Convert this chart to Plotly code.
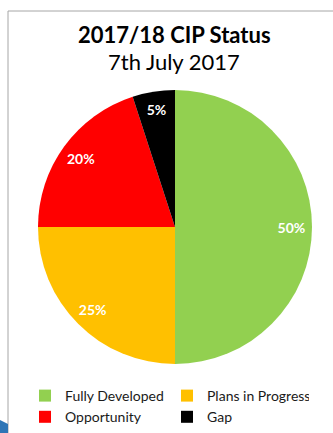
import plotly.graph_objects as go

labels = ["Fully Developed", "Plans in Progress", "Opportunity", "Gap"]
values = [50, 25, 20, 5]
colors = ["#92D050", "#FFC000", "#FF0000", "#000000"]
title_text = "2017/18 CIP Status"
subtitle_text = "7th July 2017"

W, H = 333, 433
FONT = "Lato"

def px(x):
    return x / W

def py(y):
    return 1 - y / H

cx, cy, r = 175, 227, 137
domain = dict(x=[px(cx - r), px(cx + r)], y=[py(cy + r), py(cy - r)])

fig = go.Figure()
# coloured slices
fig.add_trace(go.Pie(
    labels=labels,
    values=values,
    marker=dict(colors=colors, line=dict(width=0)),
    sort=False,
    direction="clockwise",
    rotation=0,
    textinfo="none",
    hoverinfo="label+percent",
    domain=domain,
))
# transparent ring carrying the data labels near the outer edge
fig.add_trace(go.Pie(
    labels=labels,
    values=values,
    hole=0.7,
    marker=dict(colors=["rgba(0,0,0,0)"] * len(values), line=dict(width=0)),
    sort=False,
    direction="clockwise",
    rotation=0,
    texttemplate="%{percent:.0%}",
    textposition="inside",
    insidetextorientation="horizontal",
    textfont=dict(family=FONT, size=14, color="white", weight="bold"),
    hoverinfo="skip",
    showlegend=False,
    domain=domain,
))

fig.update_layout(
    width=W, height=H,
    margin=dict(l=0, r=0, t=0, b=0),
    paper_bgcolor="white",
    plot_bgcolor="white",
    showlegend=True,
    legend=dict(
        orientation="h",
        x=px(25), xanchor="left",
        y=py(380), yanchor="top",
        entrywidth=97,
        font=dict(family=FONT, size=14, color="#1a1a1a"),
        traceorder="normal",
    ),
    annotations=[
        dict(text="<b>" + title_text + "</b>", x=px(174), y=py(34), xref="paper", yref="paper",
             showarrow=False, font=dict(family=FONT, size=22, color="black"), yanchor="middle"),
        dict(text=subtitle_text, x=px(174), y=py(61), xref="paper", yref="paper",
             showarrow=False, font=dict(family=FONT, size=22, color="black"), yanchor="middle"),
    ],
    shapes=[
        dict(type="line", xref="paper", yref="paper", x0=px(8), x1=px(333), y0=py(11), y1=py(11),
             line=dict(color="#a6a6a6", width=1)),
        dict(type="line", xref="paper", yref="paper", x0=px(8), x1=px(8), y0=py(11), y1=py(433),
             line=dict(color="#a6a6a6", width=1)),
        dict(type="path", xref="paper", yref="paper",
             path=f"M {px(0)} {py(420)} L {px(8)} {py(424)} L {px(8)} {py(433)} L {px(0)} {py(433)} Z",
             fillcolor="#2E75B6", line=dict(width=0)),
    ],
)

fig.write_html("out.html")
